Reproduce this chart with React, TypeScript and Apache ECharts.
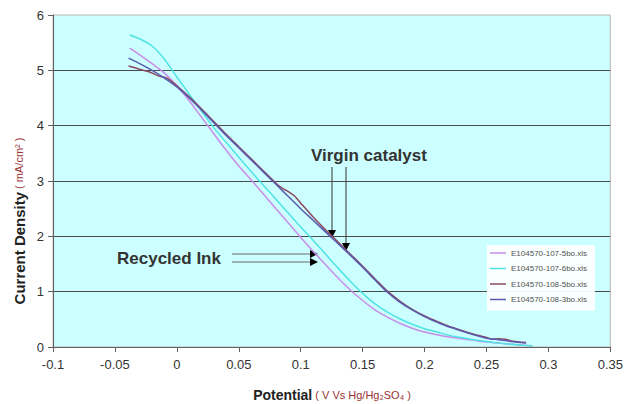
import React, { useEffect, useRef } from "react";
import * as echarts from "echarts";

// Series: E104570-107-5bo.xls
const potential1 = [-0.038, -0.03, -0.02, -0.01, 0, 0.01, 0.02, 0.03, 0.04, 0.05, 0.06, 0.07, 0.08, 0.09, 0.1, 0.11, 0.12, 0.13, 0.14, 0.15, 0.16, 0.17, 0.18, 0.19, 0.2, 0.21, 0.22, 0.23, 0.24, 0.25, 0.26, 0.27, 0.28, 0.287];
const density1 = [5.4, 5.28, 5.12, 4.95, 4.72, 4.45, 4.15, 3.85, 3.55, 3.27, 3.02, 2.76, 2.5, 2.24, 1.98, 1.73, 1.49, 1.25, 1.03, 0.84, 0.67, 0.54, 0.43, 0.34, 0.27, 0.22, 0.18, 0.15, 0.12, 0.09, 0.07, 0.05, 0.03, 0.02];

// Series: E104570-107-6bo.xls
const potential2 = [-0.038, -0.03, -0.02, -0.01, 0, 0.01, 0.02, 0.03, 0.04, 0.05, 0.06, 0.07, 0.08, 0.09, 0.1, 0.11, 0.12, 0.13, 0.14, 0.15, 0.16, 0.17, 0.18, 0.19, 0.2, 0.21, 0.22, 0.23, 0.24, 0.25, 0.26, 0.27, 0.28, 0.287];
const density2 = [5.64, 5.57, 5.44, 5.2, 4.88, 4.57, 4.26, 3.96, 3.69, 3.43, 3.17, 2.92, 2.67, 2.42, 2.17, 1.93, 1.68, 1.43, 1.19, 0.97, 0.78, 0.63, 0.51, 0.41, 0.33, 0.27, 0.21, 0.17, 0.13, 0.1, 0.07, 0.05, 0.03, 0.02];

// Series: E104570-108-5bo.xls
const potential3 = [-0.039, -0.03, -0.022, -0.015, -0.008, 0, 0.01, 0.02, 0.03, 0.04, 0.05, 0.06, 0.07, 0.08, 0.085, 0.09, 0.095, 0.1, 0.11, 0.12, 0.13, 0.14, 0.15, 0.16, 0.17, 0.18, 0.19, 0.2, 0.21, 0.22, 0.23, 0.24, 0.25, 0.255, 0.26, 0.265, 0.27, 0.282];
const density3 = [5.08, 5.02, 4.97, 4.9, 4.86, 4.72, 4.52, 4.3, 4.07, 3.84, 3.62, 3.4, 3.18, 2.96, 2.87, 2.81, 2.73, 2.6, 2.35, 2.12, 1.9, 1.68, 1.46, 1.23, 1.01, 0.83, 0.68, 0.56, 0.46, 0.37, 0.3, 0.23, 0.17, 0.14, 0.15, 0.14, 0.11, 0.08];

// Series: E104570-108-3bo.xls
const potential4 = [-0.039, -0.03, -0.02, -0.01, 0, 0.01, 0.02, 0.03, 0.04, 0.05, 0.06, 0.07, 0.08, 0.09, 0.1, 0.11, 0.12, 0.13, 0.14, 0.15, 0.16, 0.17, 0.18, 0.19, 0.2, 0.21, 0.22, 0.23, 0.24, 0.25, 0.26, 0.27, 0.282];
const density4 = [5.22, 5.12, 5.0, 4.86, 4.7, 4.5, 4.28, 4.05, 3.82, 3.6, 3.38, 3.16, 2.94, 2.72, 2.5, 2.29, 2.08, 1.87, 1.66, 1.44, 1.21, 0.99, 0.81, 0.67, 0.55, 0.45, 0.36, 0.29, 0.22, 0.16, 0.13, 0.1, 0.07];

const seriesNames = ["E104570-107-5bo.xls", "E104570-107-6bo.xls", "E104570-108-5bo.xls", "E104570-108-3bo.xls"];
const seriesColors = ["#c98ce8", "#4fe3e3", "#8a4a5e", "#5a5ab0"];

const xTicks = { min: -0.1, max: 0.35, interval: 0.05 };
const yTicks = { min: 0, max: 6, interval: 1 };

const FONT = "'Liberation Sans', Arial, sans-serif";

function pairs(xs: number[], ys: number[]) {
  return xs.map((x, i) => [x, ys[i]]);
}

export default function App() {
  const ref = useRef<HTMLDivElement>(null);
  useEffect(() => {
    if (!ref.current) return;
    const chart = echarts.init(ref.current, null, { renderer: "svg" });
    const data = [pairs(potential1, density1), pairs(potential2, density2), pairs(potential3, density3), pairs(potential4, density4)];
    const arrowColor = "#303030";
    const option: any = {
      animation: false,
      backgroundColor: "#ffffff",
      textStyle: { fontFamily: FONT },
      grid: {
        left: 53,
        right: 15,
        top: 15,
        bottom: 57,
        show: true,
        backgroundColor: "#ccffff",
        borderColor: "#b8b8b8",
        borderWidth: 1,
      },
      legend: {
        data: seriesNames,
        orient: "vertical",
        left: 487,
        top: 245,
        width: 123,
        backgroundColor: "rgba(252,255,255,0.95)",
        padding: [4, 8, 7, 3],
        icon: "rect",
        itemWidth: 16,
        itemHeight: 1.5,
        itemGap: 7.5,
        textStyle: { fontSize: 8, color: "#505050", fontFamily: FONT, lineHeight: 8 },
      },
      xAxis: {
        type: "value",
        min: xTicks.min,
        max: xTicks.max,
        interval: xTicks.interval,
        axisLine: { onZero: false, lineStyle: { color: "#606060", width: 1 } },
        axisTick: { show: true, inside: false, length: 5, lineStyle: { color: "#606060" } },
        axisLabel: {
          margin: 11,
          fontSize: 13,
          color: "#333333",
          fontFamily: FONT,
          formatter: (v: number) => String(parseFloat(v.toFixed(2))),
        },
        splitLine: { show: false },
      },
      yAxis: {
        type: "value",
        min: yTicks.min,
        max: yTicks.max,
        interval: yTicks.interval,
        axisLine: { show: true, onZero: false, lineStyle: { color: "#606060", width: 1 } },
        axisTick: { show: true, inside: false, length: 5, lineStyle: { color: "#606060" } },
        axisLabel: { margin: 9, fontSize: 13, color: "#333333", fontFamily: FONT },
        splitLine: { show: true, showMinLine: false, showMaxLine: false, lineStyle: { color: "#4a4a4a", width: 1 } },
      },
      series: seriesNames.map((name, i) => ({
        name,
        type: "line",
        data: data[i],
        smooth: 0.3,
        symbol: "none",
        lineStyle: { color: seriesColors[i], width: 1.5 },
        itemStyle: { color: seriesColors[i] },
        z: 2 + i,
      })),
      graphic: [
        {
          type: "text",
          x: 311,
          y: 155,
          style: { text: "Virgin catalyst", font: `bold 17px ${FONT}`, fill: "#333333", align: "left", verticalAlign: "middle" },
        },
        {
          type: "text",
          x: 117,
          y: 258,
          style: { text: "Recycled Ink", font: `bold 17px ${FONT}`, fill: "#333333", align: "left", verticalAlign: "middle" },
        },
        { type: "line", shape: { x1: 332, y1: 167, x2: 332, y2: 231 }, style: { stroke: arrowColor, lineWidth: 1 } },
        { type: "polygon", shape: { points: [[328, 230], [336, 230], [332, 238]] }, style: { fill: "#000000" } },
        { type: "line", shape: { x1: 346, y1: 167, x2: 346, y2: 244 }, style: { stroke: arrowColor, lineWidth: 1 } },
        { type: "polygon", shape: { points: [[342, 243], [350, 243], [346, 251]] }, style: { fill: "#000000" } },
        { type: "line", shape: { x1: 232, y1: 254, x2: 311, y2: 254 }, style: { stroke: "#6a6a6a", lineWidth: 1 } },
        { type: "polygon", shape: { points: [[310, 250], [310, 258], [318, 254]] }, style: { fill: "#000000" } },
        { type: "line", shape: { x1: 232, y1: 262, x2: 311, y2: 262 }, style: { stroke: "#6a6a6a", lineWidth: 1 } },
        { type: "polygon", shape: { points: [[310, 258], [310, 266], [318, 262]] }, style: { fill: "#000000" } },
        {
          type: "text",
          x: 19,
          y: 221,
          rotation: Math.PI / 2,
          style: {
            text: "{b|Current Density}{r| ( mA/cm² )}",
            align: "center",
            verticalAlign: "middle",
            rich: {
              b: { font: `bold 15px ${FONT}`, fill: "#222222" },
              r: { font: `11px ${FONT}`, fill: "#993333" },
            },
          },
        },
        {
          type: "text",
          x: 332,
          y: 395,
          style: {
            text: "{b|Potential}{r| ( V Vs Hg/Hg₂SO₄ )}",
            align: "center",
            verticalAlign: "middle",
            rich: {
              b: { font: `bold 14px ${FONT}`, fill: "#222222" },
              r: { font: `11px ${FONT}`, fill: "#993333" },
            },
          },
        },
      ],
    };
    chart.setOption(option);
    return () => chart.dispose();
  }, []);
  return <div ref={ref} style={{ position: "absolute", left: 0, top: 0, width: 626, height: 404 }} />;
}
